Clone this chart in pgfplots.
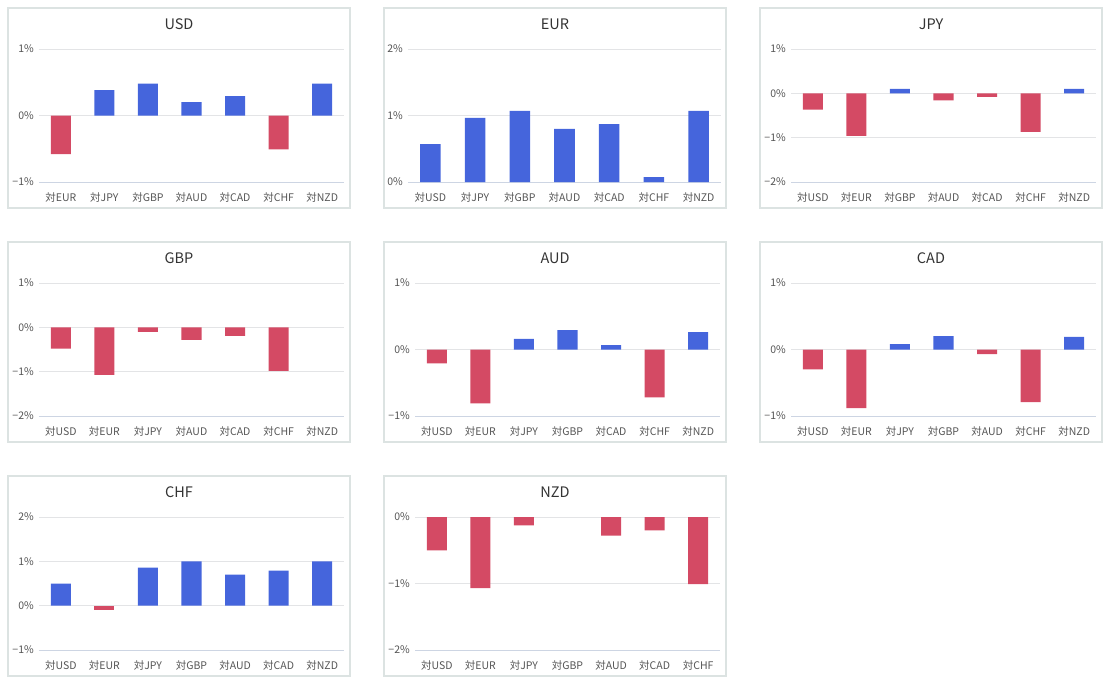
\documentclass[border=0pt]{standalone}
\usepackage{fontspec}
\setmainfont{Noto Sans CJK JP}
\usepackage{pgfplots}
\pgfplotsset{compat=1.18}

\definecolor{upc}{HTML}{4565DC}
\definecolor{downc}{HTML}{D44A64}
\definecolor{gridc}{HTML}{E3E4E6}
\definecolor{basec}{HTML}{CDD5E3}
\definecolor{framec}{HTML}{DCE3E2}
\definecolor{tickc}{HTML}{555555}
\definecolor{titlec}{HTML}{333333}

\pgfplotsset{
  panel/.style={
    scale only axis, width=305pt, height=133pt, anchor=south west,
    ybar, bar width=0.46, bar shift=0pt,
    xmin=-0.5, xmax=6.5, xtick={0,...,6},
    axis x line*=bottom, axis y line*=left,
    x axis line style={basec, line width=1pt, -},
    y axis line style={draw=none},
    major tick length=0pt,
    ymajorgrids, grid style={gridc, line width=1pt},
    ticklabel style={font=\fontsize{10.5}{12}\selectfont, text=tickc},
    xticklabel style={anchor=base, yshift=-19pt},
    yticklabel style={anchor=east, inner sep=0pt, xshift=-5pt},
  },
  up/.style={fill=upc, draw=none},
  down/.style={fill=downc, draw=none},
}
\newcommand{\paneltitle}[3]{%
  \draw[framec, line width=2pt] (#1pt+1pt,-#2pt-1pt) rectangle (#1pt+343pt,-#2pt-201pt);
  \node[text=titlec, font=\fontsize{14.5}{16}\selectfont] at (#1pt+172pt,-#2pt-17pt) {#3};}

\begin{document}
\begin{tikzpicture}
\path (0,0) rectangle (1112pt,-688pt);

% row 1
\paneltitle{7}{7}{USD}
\begin{axis}[panel, at={(39pt,-182pt)},
  ymin=-1, ymax=1, ytick={-1,0,1}, yticklabels={−1\%,0\%,1\%},
  xticklabels={対EUR,対JPY,対GBP,対AUD,対CAD,対CHF,対NZD}]
\addplot[up] coordinates {(1,0.38) (2,0.48) (3,0.2) (4,0.29) (6,0.48)};
\addplot[down] coordinates {(0,-0.58) (5,-0.51)};
\end{axis}

\paneltitle{383}{7}{EUR}
\begin{axis}[panel, at={(408pt,-182pt)}, width=313pt,
  ymin=0, ymax=2, ytick={0,1,2}, yticklabels={0\%,1\%,2\%},
  xticklabels={対USD,対JPY,対GBP,対AUD,対CAD,対CHF,対NZD}]
\addplot[up] coordinates {(0,0.57) (1,0.965) (2,1.07) (3,0.80) (4,0.87) (5,0.075) (6,1.07)};
\end{axis}

\paneltitle{759}{7}{JPY}
\begin{axis}[panel, at={(791pt,-182pt)},
  ymin=-2, ymax=1, ytick={-2,-1,0,1}, yticklabels={−2\%,−1\%,0\%,1\%},
  xticklabels={対USD,対EUR,対GBP,対AUD,対CAD,対CHF,対NZD}]
\addplot[up] coordinates {(2,0.1) (6,0.1)};
\addplot[down] coordinates {(0,-0.37) (1,-0.96) (3,-0.16) (4,-0.08) (5,-0.87)};
\end{axis}

% row 2
\paneltitle{7}{241}{GBP}
\begin{axis}[panel, at={(39pt,-416pt)},
  ymin=-2, ymax=1, ytick={-2,-1,0,1}, yticklabels={−2\%,−1\%,0\%,1\%},
  xticklabels={対USD,対EUR,対JPY,対AUD,対CAD,対CHF,対NZD}]
\addplot[down] coordinates {(0,-0.48) (1,-1.07) (2,-0.1) (3,-0.28) (4,-0.19) (5,-0.98)};
\end{axis}

\paneltitle{383}{241}{AUD}
\begin{axis}[panel, at={(415pt,-416pt)},
  ymin=-1, ymax=1, ytick={-1,0,1}, yticklabels={−1\%,0\%,1\%},
  xticklabels={対USD,対EUR,対JPY,対GBP,対CAD,対CHF,対NZD}]
\addplot[up] coordinates {(2,0.16) (3,0.29) (4,0.065) (6,0.26)};
\addplot[down] coordinates {(0,-0.21) (1,-0.81) (5,-0.72)};
\end{axis}

\paneltitle{759}{241}{CAD}
\begin{axis}[panel, at={(791pt,-416pt)},
  ymin=-1, ymax=1, ytick={-1,0,1}, yticklabels={−1\%,0\%,1\%},
  xticklabels={対USD,対EUR,対JPY,対GBP,対AUD,対CHF,対NZD}]
\addplot[up] coordinates {(2,0.08) (3,0.2) (6,0.19)};
\addplot[down] coordinates {(0,-0.3) (1,-0.88) (4,-0.07) (5,-0.79)};
\end{axis}

% row 3
\paneltitle{7}{475}{CHF}
\begin{axis}[panel, at={(39pt,-650pt)},
  ymin=-1, ymax=2, ytick={-1,0,1,2}, yticklabels={−1\%,0\%,1\%,2\%},
  xticklabels={対USD,対EUR,対JPY,対GBP,対AUD,対CAD,対NZD}]
\addplot[up] coordinates {(0,0.5) (2,0.86) (3,1.0) (4,0.7) (5,0.79) (6,1.0)};
\addplot[down] coordinates {(1,-0.09)};
\end{axis}

\paneltitle{383}{475}{NZD}
\begin{axis}[panel, at={(415pt,-650pt)},
  ymin=-2, ymax=0, ytick={-2,-1,0}, yticklabels={−2\%,−1\%,0\%},
  xticklabels={対USD,対EUR,対JPY,対GBP,対AUD,対CAD,対CHF}]
\addplot[down] coordinates {(0,-0.5) (1,-1.07) (2,-0.125) (4,-0.28) (5,-0.2) (6,-1.01)};
\end{axis}
\end{tikzpicture}
\end{document}
